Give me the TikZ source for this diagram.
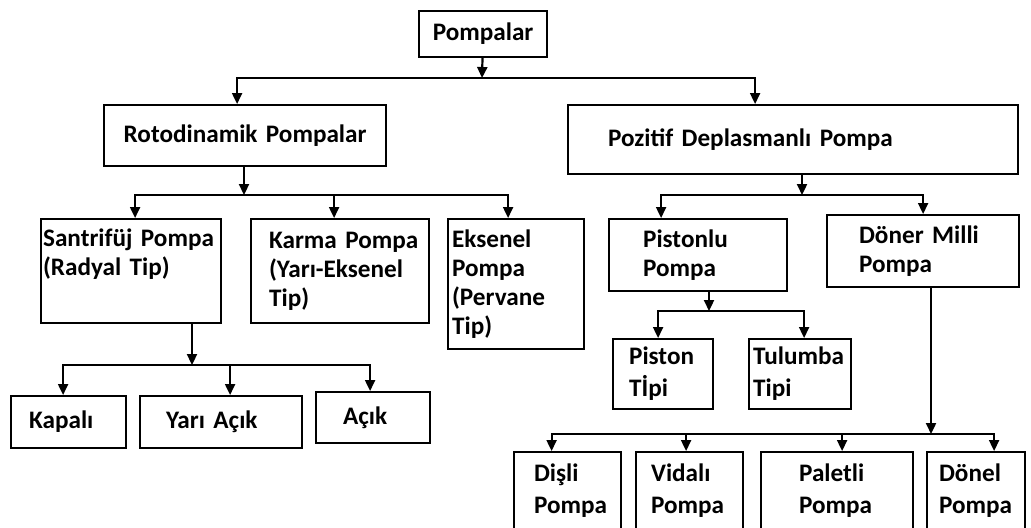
\documentclass[tikz,border=0pt]{standalone}
\usepackage{fontspec}
\setmainfont{Carlito}[WordSpace=0.6]
\usetikzlibrary{arrows.meta}
\begin{document}
\begin{tikzpicture}[x=0.5pt,y=-0.5pt,
  kutu/.style={draw, line width=1.1pt, anchor=north west, align=left, inner ysep=0pt,
    font=\bfseries\fontsize{12.6}{14.5}\selectfont},
  ok/.style={line width=1.1pt, -{Triangle[length=5.5pt,width=5pt]}}]
\useasboundingbox (0,0) rectangle (1031,527);
% kutular
\node[kutu, align=center, text width=56pt, inner xsep=4pt, minimum height=23pt] (pompalar) at (418,10) {Pompalar};
\node[kutu, align=center, text width=133pt, inner xsep=4pt, minimum height=30.5pt] (roto) at (103,104) {Rotodinamik Pompalar};
\node[kutu, text width=185pt, inner xsep=20pt, minimum height=34.5pt] (pozitif) at (567,104) {Pozitif Deplasmanlı Pompa};
\node[kutu, text width=88pt, inner xsep=1pt, minimum height=52pt] (santrifuj) at (40,218) {Santrifüj~Pompa\\(Radyal~Tip)\\\strut};
\node[kutu, text width=71pt, inner xsep=9pt, minimum height=52pt] (karma) at (250,218) {Karma~Pompa\\\mbox{(Yarı-Eksenel}\\Tip)};
\node[kutu, text width=64pt, inner xsep=2pt, minimum height=65pt] (eksenel) at (447,218) {Eksenel\\Pompa\\(Pervane\\Tip)};
\node[kutu, text width=55pt, inner xsep=17pt, minimum height=36pt] (pistonlu) at (608,218) {Pistonlu\\Pompa};
\node[kutu, text width=64pt, inner xsep=16pt, minimum height=36pt] (doner) at (826,214) {Döner~Milli\\Pompa};
\node[kutu, text width=34pt, inner xsep=8pt, minimum height=35pt] (piston) at (612,338) {Piston\\[1.5pt]Tİpi};
\node[kutu, text width=47pt, inner xsep=2pt, minimum height=35pt] (tulumba) at (748,338) {Tulumba\\[1.5pt]Tipi};
\node[kutu, text width=39.5pt, inner xsep=9pt, minimum height=26pt] (kapali) at (10,395) {Kapalı};
\node[kutu, text width=55pt, inner xsep=13pt, minimum height=26pt] (yariacik) at (139,395) {Yarı~Açık};
\node[kutu, text width=30pt, inner xsep=13.5pt, minimum height=25.5pt] (acik) at (315,391) {Açık};
% alt sira
\node[kutu, text width=33.5pt, inner xsep=10pt, minimum height=39pt] (disli) at (513,451) {Dişli\\[1.5pt]Pompa};
\node[kutu, text width=38.5pt, inner xsep=7.5pt, minimum height=39pt] (vidali) at (635,451) {Vidalı\\[1.5pt]Pompa};
\node[kutu, text width=38pt, inner xsep=19pt, minimum height=39pt] (paletli) at (760,451) {Paletli\\[1.5pt]Pompa};
\node[kutu, text width=37pt, inner xsep=6pt, minimum height=39pt] (donel) at (926,451) {Dönel\\[1.5pt]Pompa};
% baglantilar
\coordinate (b0) at (482,78);
\draw[ok] (pompalar) -- (b0);
\draw[ok] (b0) -| ([xshift=-4pt]roto.north);
\draw[ok] (b0) -| ([xshift=-19pt]pozitif.north);
\coordinate (b1) at (244,195);
\draw[ok] (roto.south -| b1) -- (b1);
\draw[ok] (b1) -| ([xshift=2pt]santrifuj.north);
\draw[ok] (b1) -| ([xshift=-3pt]karma.north);
\draw[ok] (b1) -| ([xshift=-4pt]eksenel.north);
\coordinate (b2) at (802,195);
\draw[ok] (pozitif.south -| b2) -- (b2);
\draw[ok] (b2) -| ([xshift=-18.5pt]pistonlu.north);
\draw[ok] (b2) -| (doner.north);
\coordinate (b3) at (192,365);
\draw[ok] (santrifuj.south -| b3) -- (b3);
\draw[ok] (b3) -| ([xshift=-2.75pt]kapali.north);
\draw[ok] (b3) -| ([xshift=4.5pt]yariacik.north);
\draw[ok] (b3) -| ([xshift=-1.5pt]acik.north);
\coordinate (b4) at (709,311);
\draw[ok] (pistonlu.south -| b4) -- (b4);
\draw[ok] (b4) -| ([xshift=-2.5pt]piston.north);
\draw[ok] (b4) -| ([xshift=2pt]tulumba.north);
\coordinate (b5) at (931,434);
\draw[ok] (doner.south -| b5) -- (b5);
\draw[ok] (b5) -| ([xshift=-8pt]disli.north);
\draw[ok] (b5) -| ([xshift=-1.75pt]vidali.north);
\draw[ok] (b5) -| ([xshift=2.5pt]paletli.north);
\draw[ok] (b5) -| ([xshift=9pt]donel.north);
\end{tikzpicture}
\end{document}
